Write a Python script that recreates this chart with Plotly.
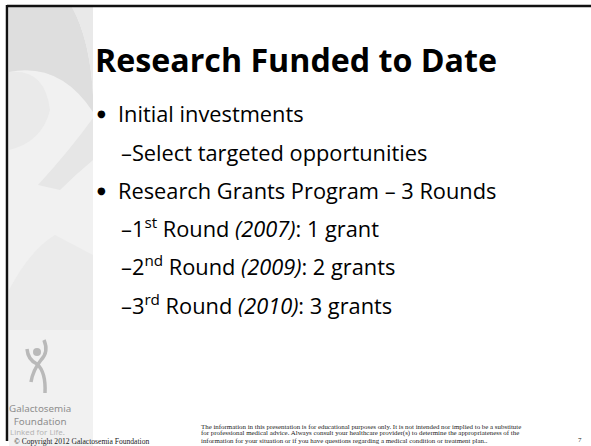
import plotly.graph_objects as go

# ---- slide content ----
title = "Research Funded to Date"
bullet_1 = "Initial investments"
sub_1 = "Select targeted opportunities"
bullet_2 = "Research Grants Program – 3 Rounds"
round_nums = ["1", "2", "3"]
round_suffix = ["st", "nd", "rd"]
round_years = [2007, 2009, 2010]
round_grants = [1, 2, 3]
footer_lines = [
    "The information in this presentation is for educational purposes only. It is not intended nor implied to be a substitute",
    "for professional medical advice. Always consult your healthcare provider(s) to determine the appropriateness of the",
    "information for your situation or if you have questions regarding a medical condition or treatment plan..",
]
logo_name = ["Galactosemia", "Foundation"]
logo_tagline = "Linked for Life."
copyright_text = "© Copyright 2012 Galactosemia Foundation"
page_number = "7"

W, H = 591, 446
FONT = "Open Sans"
fig = go.Figure()

shapes = []
# left grey panel
shapes.append(dict(type="rect", x0=9, x1=93, y0=7, y1=H, fillcolor="#f1f1f1", line_width=0, layer="below"))
shapes.append(dict(type="path", path="M 9 7 L 72 7 Q 90 40 93 95 L 93 112 Q 60 62 9 72 Z",
                   fillcolor="#dedede", line_width=0, layer="below"))
shapes.append(dict(type="path", path="M 72 7 L 93 7 L 93 95 Q 90 40 72 7 Z",
                   fillcolor="#e9e9e9", line_width=0, layer="below"))
shapes.append(dict(type="path", path="M 9 72 Q 45 68 50 110 Q 42 142 9 150 Z",
                   fillcolor="#eaeaea", line_width=0, layer="below"))
shapes.append(dict(type="path", path="M 38 185 Q 70 150 93 118 L 93 160 Q 75 175 60 190 Z",
                   fillcolor="#e6e6e6", line_width=0, layer="below"))
shapes.append(dict(type="path", path="M 9 290 Q 30 250 55 235 L 93 255 L 93 330 L 9 330 Z",
                   fillcolor="#ebebeb", line_width=0, layer="below"))
# border lines
shapes.append(dict(type="line", x0=7, x1=W, y0=6, y1=6, line=dict(color="#111111", width=2.5)))
shapes.append(dict(type="line", x0=7, x1=7, y0=5, y1=441, line=dict(color="#111111", width=2.5)))
# logo figure
LG = "#b9b9b9"
shapes.append(dict(type="circle", x0=33, x1=41, y0=348, y1=356, fillcolor=LG, line_width=0))
shapes.append(dict(type="path", path="M 44 340 Q 49 352 41 360 Q 33 370 31 382",
                   line=dict(color=LG, width=3.5)))
shapes.append(dict(type="path", path="M 27 349 Q 28 360 37 364 Q 46 372 45 393",
                   line=dict(color=LG, width=3.5)))
fig.update_layout(shapes=shapes)

ann = []
def add(text, x, y, size, color="#000000", family=FONT, xanchor="left", align="left"):
    ann.append(dict(text=text, x=x, y=y, xref="x", yref="y", showarrow=False,
                    xanchor=xanchor, yanchor="middle", align=align,
                    font=dict(size=size, color=color, family=family)))

add("<b>" + title + "</b>", 93, 59, 32.2)
BS = 21.8
DOT = 10
add("●", 95, 113, DOT, family="DejaVu Sans")
add(bullet_1, 116, 113, BS)
add("–" + sub_1, 119, 152, BS)
add("●", 95, 190, DOT, family="DejaVu Sans")
add(bullet_2, 116, 190, BS)
for i, (n, s, yr, g) in enumerate(zip(round_nums, round_suffix, round_years, round_grants)):
    txt = "–%s<sup>%s</sup> Round <i>(%d)</i>: %d grant%s" % (n, s, yr, g, "" if g == 1 else "s")
    add(txt, 119, 227 + i * 38.7, BS)

# logo text
add("<br>".join(logo_name), 40, 414.5, 9.8, color="#8e8e8e", family="Noto Sans", xanchor="center", align="center")
add(logo_tagline, 8, 431.5, 7.9, color="#b5b5b5", family="Noto Sans")
add(copyright_text, 12, 441, 7.6, color="#222222", family="Liberation Serif")
for i, line in enumerate(footer_lines):
    add(line, 199, 426 + i * 7, 6.9, color="#222222", family="Liberation Serif")
add(page_number, 576, 440, 7, color="#222222", family="Liberation Serif")
fig.update_layout(annotations=ann)

fig.update_layout(
    width=W, height=H, margin=dict(l=0, r=0, t=0, b=0),
    paper_bgcolor="white", plot_bgcolor="white", showlegend=False,
    xaxis=dict(range=[0, W], visible=False, fixedrange=True),
    yaxis=dict(range=[H, 0], visible=False, fixedrange=True),
)
fig.write_html("out.html", config={"displayModeBar": False},
               post_script="document.body.style.margin='0';document.body.style.overflow='hidden';")
